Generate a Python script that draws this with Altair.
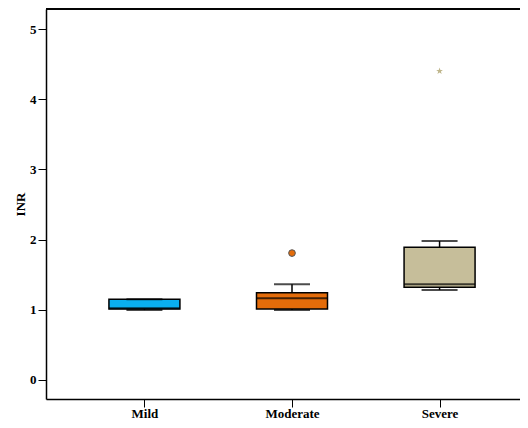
import altair as alt
import pandas as pd

categories = ["Mild", "Moderate", "Severe"]
colors = ["#0AAFEF", "#E46C0A", "#C6BE9A"]
q1 = [1.008, 1.009, 1.318]
median = [1.02, 1.161, 1.361]
q3 = [1.147, 1.241, 1.889]
wlow = [0.994, 0.994, 1.28]
whigh = [1.147, 1.361, 1.979]

out_cat = ["Moderate"]
out_val = [1.807]
ext_cat = ["Severe"]
ext_val = [4.404]

df = pd.DataFrame({"cat": categories, "q1": q1, "med": median, "q3": q3,
                   "lo": wlow, "hi": whigh, "color": colors})
df_out = pd.DataFrame({"cat": out_cat, "v": out_val})
df_ext = pd.DataFrame({"cat": ext_cat, "v": ext_val})

xs = alt.Scale(type="point", domain=categories, padding=0.667, range=[0, 492])
ys = alt.Scale(domain=[-0.275, 5.29], nice=False, zero=False)

xenc = alt.X("cat:N", scale=xs, sort=categories,
             axis=alt.Axis(title=None, labelAngle=0, tickSize=8, labelPadding=0,
                           domainColor="black", tickColor="black", domainWidth=1.5,
                           labelFont="Liberation Serif", labelFontWeight="bold",
                           labelFontSize=13, labelColor="black"))
yaxis = alt.Axis(title="INR", values=[0, 1, 2, 3, 4, 5], format="d", tickSize=8, grid=False,
                 domainColor="black", tickColor="black", domainWidth=1.5,
                 labelFont="Liberation Serif", labelFontWeight="bold",
                 labelFontSize=13, labelColor="black", labelPadding=2,
                 titleFont="Liberation Serif", titleFontWeight="bold",
                 titleFontSize=13, titleColor="black", titlePadding=2)

base = alt.Chart(df)

lower_rule = base.mark_rule(color="black", strokeWidth=1.5).encode(
    x=xenc, y=alt.Y("lo:Q", scale=ys, axis=yaxis), y2="q1:Q")
upper_rule = base.mark_rule(color="black", strokeWidth=1.5).encode(
    x=xenc, y=alt.Y("q3:Q", scale=ys), y2="hi:Q")
box = base.mark_bar(size=71, stroke="black", strokeWidth=1.5).encode(
    x=xenc, y=alt.Y("q1:Q", scale=ys), y2="q3:Q",
    color=alt.Color("color:N", scale=None))
med = base.mark_tick(size=71, thickness=2, color="black").encode(
    x=xenc, y=alt.Y("med:Q", scale=ys))
cap_lo = base.mark_tick(size=36, thickness=2, color="black").encode(
    x=xenc, y=alt.Y("lo:Q", scale=ys))
cap_hi = base.mark_tick(size=36, thickness=2, color="black").encode(
    x=xenc, y=alt.Y("hi:Q", scale=ys))
outl = alt.Chart(df_out).mark_point(shape="circle", filled=True, size=45,
                                     color="#E46C0A", stroke="#555555",
                                     strokeWidth=1, opacity=1).encode(
    x=xenc, y=alt.Y("v:Q", scale=ys))
ext = alt.Chart(df_ext).mark_point(shape="M0,-1L0.24,-0.33L0.95,-0.31L0.38,0.12L0.59,0.81L0,0.4L-0.59,0.81L-0.38,0.12L-0.95,-0.31L-0.24,-0.33Z",
                                    filled=True, size=50, color="#BFB68C", opacity=1).encode(
    x=xenc, y=alt.Y("v:Q", scale=ys))
top = alt.Chart(df).mark_rule(color="black", strokeWidth=1.5).encode(
    x=alt.value(0), x2=alt.value(492), y=alt.value(0))

chart = alt.layer(lower_rule, upper_rule, box, med, cap_lo, cap_hi, outl, ext, top).properties(
    width=474, height=390,
    autosize=alt.AutoSizeParams(type="none"),
    padding={"left": 38, "top": 1, "right": 0, "bottom": 21},
    background="white",
).configure_view(strokeWidth=0, stroke="transparent")

chart.save("out.html", embed_options={"renderer": "svg", "actions": False})
